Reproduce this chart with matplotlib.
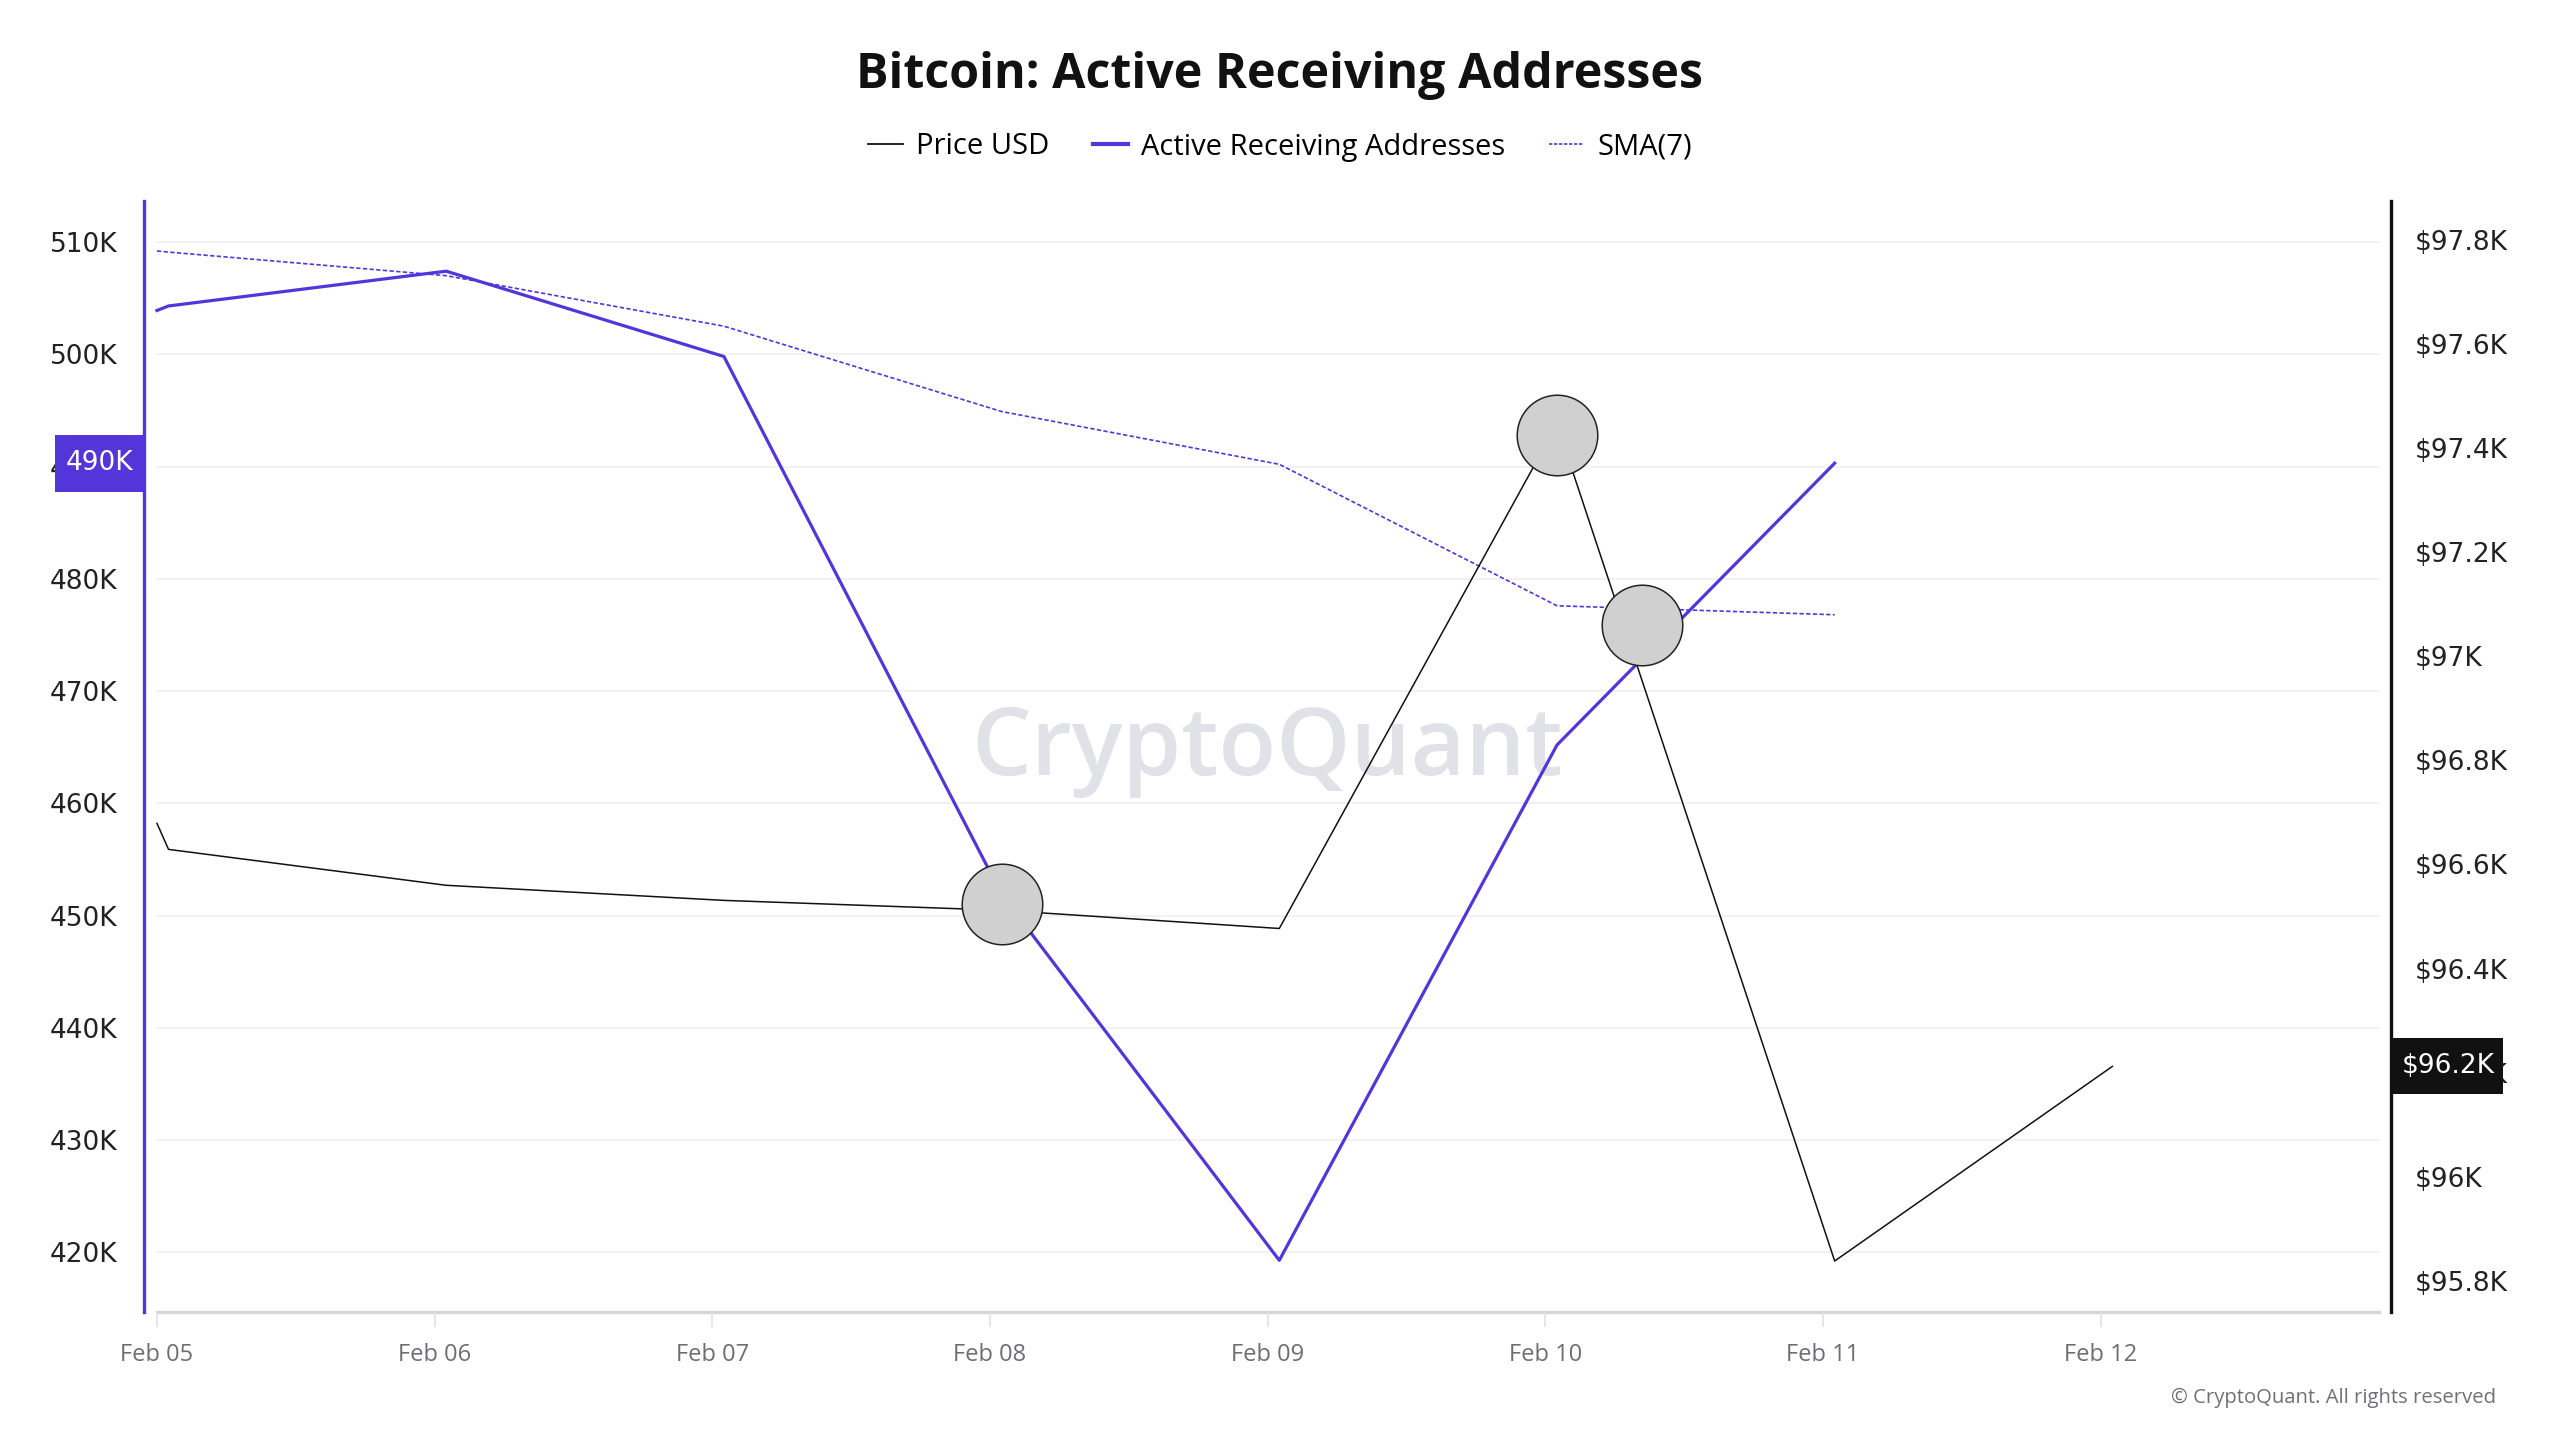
import matplotlib.pyplot as plt
import matplotlib.transforms as mtrans
from matplotlib.patches import Rectangle
import pandas as pd

# data
addr_dates = pd.to_datetime(['2025-02-05 00:00', '2025-02-05 01:00', '2025-02-06 01:00', '2025-02-07 01:00',
                             '2025-02-08 01:00', '2025-02-09 01:00', '2025-02-10 01:00', '2025-02-11 01:00'])
active_addresses = [503900, 504300, 507400, 499800, 451900, 419300, 465200, 490300]
sma7 = [509200, 509100, 507000, 502500, 494900, 490200, 477600, 476800]

price_dates = pd.to_datetime(['2025-02-05 00:00', '2025-02-05 01:00', '2025-02-06 01:00', '2025-02-07 01:00',
                              '2025-02-08 01:00', '2025-02-09 01:00', '2025-02-10 01:00', '2025-02-11 01:00',
                              '2025-02-12 01:00'])
price_usd = [96679, 96629, 96560, 96531, 96512, 96477, 97446, 95838, 96212]

marker_dates = pd.to_datetime(['2025-02-08 01:00', '2025-02-10 01:00', '2025-02-10 08:20'])
marker_price = [96525, 97425, 97060]

tick_days = pd.date_range('2025-02-05', '2025-02-12', freq='D')
tick_labels = ['Feb 05', 'Feb 06', 'Feb 07', 'Feb 08', 'Feb 09', 'Feb 10', 'Feb 11', 'Feb 12']
left_ticks = [420000, 430000, 440000, 450000, 460000, 470000, 480000, 490000, 500000, 510000]
right_ticks = [95800, 96000, 96200, 96400, 96600, 96800, 97000, 97200, 97400, 97600, 97800]

PURPLE = '#5236d9'
FONT = ['Open Sans', 'DejaVu Sans']
TICKFONT = 'DejaVu Sans'

fig = plt.figure(figsize=(25.6, 14.4), dpi=100)
ax = fig.add_axes([144/2560, 128/1440, 2247/2560, 1111/1440])
ax2 = ax.twinx()

x0 = pd.Timestamp('2025-02-05') - pd.Timedelta(hours=1.12)
x1 = pd.Timestamp('2025-02-13') + pd.Timedelta(hours=1.08)
ax.set_xlim(x0, x1)
ax.set_ylim(414700, 513650)
ax2.set_ylim(95740, 97875)

# gridlines, only on the left scale
for v in left_ticks:
    ax.plot([pd.Timestamp('2025-02-05'), pd.Timestamp('2025-02-13')], [v, v], color='#f1f1f3', lw=1.3, zorder=0)
ax.plot([pd.Timestamp('2025-02-05'), pd.Timestamp('2025-02-13')], [414700, 414700], color='#d5d5d8', lw=2.4,
        zorder=1, clip_on=False)

# watermark
ax.text(0.50, 0.505, 'CryptoQuant', transform=ax.transAxes, fontsize=68, color='#e1e1e8', ha='center',
        va='center', family=FONT, fontweight='semibold', zorder=0)

ax.plot(addr_dates, sma7, color=PURPLE, lw=1.2, ls=(0, (2.6, 1.4)), zorder=3, label='SMA(7)')
ax.plot(addr_dates, active_addresses, color=PURPLE, lw=2.3, zorder=3, label='Active Receiving Addresses')
ax2.plot(price_dates, price_usd, color='#111111', lw=1.1, zorder=3, label='Price USD')
ax2.plot(marker_dates, marker_price, ls='none', marker='o', markersize=58, markerfacecolor='#d0d0d0',
         markeredgecolor='#222222', markeredgewidth=1.1, zorder=5)

ax.set_xticks(tick_days)
ax.set_xticklabels(tick_labels)
ax.tick_params(axis='x', length=11, width=1.2, color='#e2e2e5', pad=11, labelsize=17, labelcolor='#6d6d72')
for lbl in ax.get_xticklabels():
    lbl.set_family(FONT)

ax.set_yticks(left_ticks)
ax.set_yticklabels([f'{v // 1000}K' for v in left_ticks])
ax.tick_params(axis='y', length=0, pad=19, labelsize=19, labelcolor='#222222')
ax2.set_yticks(right_ticks)
ax2.set_yticklabels([f'${v / 1000:g}K' for v in right_ticks])
ax2.tick_params(axis='y', length=0, pad=17, labelsize=19, labelcolor='#222222')
for lbl in ax.get_yticklabels() + ax2.get_yticklabels():
    lbl.set_family(TICKFONT)

for a in (ax, ax2):
    a.spines['top'].set_visible(False)
    a.spines['bottom'].set_visible(False)
    a.patch.set_visible(False)
ax.spines['left'].set_color(PURPLE)
ax.spines['left'].set_linewidth(2.4)
ax.spines['right'].set_visible(False)
ax2.spines['left'].set_visible(False)
ax2.spines['right'].set_color('#111111')
ax2.spines['right'].set_linewidth(2.4)

# last value badges
tl = mtrans.blended_transform_factory(ax.transAxes, ax.transData)
last_addr = active_addresses[-1]
ax.add_patch(Rectangle((-0.0396, last_addr - 2550), 0.0396, 5100, transform=tl, facecolor=PURPLE,
                       edgecolor='none', zorder=9, clip_on=False))
ax.text(-0.0198, last_addr, f'{round(last_addr / 1000)}K', transform=tl, ha='center', va='center',
        fontsize=19, color='white', family=TICKFONT, zorder=10, clip_on=False)

tr = mtrans.blended_transform_factory(ax2.transAxes, ax2.transData)
last_price = price_usd[-1]
ax2.add_patch(Rectangle((1.001, last_price - 54), 0.049, 108, transform=tr, facecolor='#111111',
                        edgecolor='none', zorder=9, clip_on=False))
ax2.text(1.0255, last_price, f'${last_price / 1000:.1f}K', transform=tr, ha='center', va='center',
         fontsize=19, color='white', family=TICKFONT, zorder=10, clip_on=False)

fig.text(0.5, 1 - 76/1440, 'Bitcoin: Active Receiving Addresses', ha='center', va='center', fontsize=34.8,
         fontweight='bold', family=FONT, color='#111111')

h_price = plt.Line2D([], [], color='#111111', lw=1.3)
h_addr = plt.Line2D([], [], color=PURPLE, lw=3)
h_sma = plt.Line2D([], [], color=PURPLE, lw=1.2, ls=(0, (2, 1)))
fig.legend([h_price, h_addr, h_sma], ['Price USD', 'Active Receiving Addresses', 'SMA(7)'], loc='center',
           bbox_to_anchor=(0.5, 1 - 147/1440), ncol=3, frameon=False, handlelength=1.2, handletextpad=0.45,
           columnspacing=1.5, prop={'family': FONT, 'size': 21})

fig.text(2496/2560, 1 - 1398/1440, '© CryptoQuant. All rights reserved', ha='right', va='center', fontsize=14.6,
         family=FONT, color='#707075')

plt.savefig('out.png', dpi=100, facecolor='white')
